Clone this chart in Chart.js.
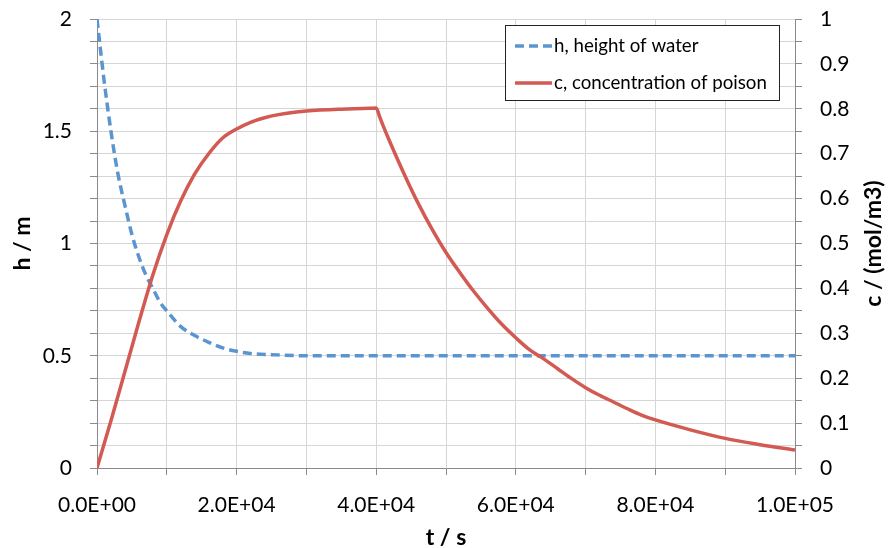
<!DOCTYPE html>
<html>
<head>
<meta charset="utf-8">
<script src="https://cdn.jsdelivr.net/npm/chart.js@4.4.0/dist/chart.umd.min.js"></script>
<style>
	body { margin: 0; background: #fff; }
	#wrap { width: 888px; height: 548px; position: relative; }
</style>
</head>
<body>
<div id="wrap"><canvas id="tank_chart"></canvas></div>
<script>
// h, height of water (m)
const hTimes = [0, 1000, 2000, 3000, 4000, 5000, 6000, 7000, 8000, 9000, 10000, 12000, 14000, 16000, 18000, 20000, 22000, 25000, 30000, 40000, 50000, 60000, 70000, 80000, 90000, 100000];
const hValues = [2.00, 1.73, 1.50, 1.31, 1.17, 1.04, 0.94, 0.86, 0.80, 0.74, 0.70, 0.63, 0.59, 0.56, 0.535, 0.52, 0.51, 0.505, 0.50, 0.50, 0.50, 0.50, 0.50, 0.50, 0.50, 0.50];

// c, concentration of poison (mol/m3)
const cTimes = [0, 2000, 4000, 6000, 8000, 10000, 12000, 14000, 16000, 18000, 20000, 22000, 24000, 26000, 28000, 30000, 35000, 39000, 40000, 40500, 41000, 42000, 44000, 46000, 48000, 50000, 52000, 54000, 56000, 58000, 60000, 62000, 64000, 66000, 68000, 70000, 72000, 74000, 76000, 78000, 80000, 85000, 90000, 95000, 100000];
const cValues = [0, 0.105, 0.215, 0.325, 0.43, 0.52, 0.595, 0.655, 0.70, 0.735, 0.755, 0.77, 0.78, 0.787, 0.792, 0.795, 0.799, 0.801, 0.802, 0.782, 0.762, 0.725, 0.655, 0.59, 0.532, 0.48, 0.435, 0.393, 0.355, 0.32, 0.29, 0.263, 0.243, 0.221, 0.199, 0.179, 0.162, 0.147, 0.132, 0.118, 0.107, 0.085, 0.066, 0.052, 0.040];

const seriesLabels = ['h, height of water', 'c, concentration of poison'];
const axisTitles = { x: 't / s', y: 'h / m', y1: 'c / (mol/m3)' };

const blue = '#5b95d0';
const red = '#d25a52';
const gridColor = '#d6d6d6';
const axisColor = '#8a8a8a';
const fontName = 'Lato, "Open Sans", sans-serif';

window.tank_chart = () => {
	let chartId = "tank_chart";
	const canvas = document.getElementById(chartId);
	if (canvas == null) return;

	const toPoints = (xs, ys) => xs.map((x, i) => ({ x: x, y: ys[i] }));

	const fmtExp = (v) => {
		let s = Number(v).toExponential(1).toUpperCase(); // e.g. 2.0E+4
		let m = s.match(/^(.*)E([+-])(\d+)$/);
		return m[1] + 'E' + m[2] + m[3].padStart(2, '0');
	};

	// fixed box sizes so the plot area lands where it does in the original
	const fixBox = (w, h) => (s) => {
		if (w != null) s.width = w;
		if (h != null) s.height = h;
		s.paddingTop = 0;
		s.paddingBottom = 0;
		s.paddingLeft = 0;
		s.paddingRight = 0;
	};

	// titles + legend drawn by hand (right title reads bottom-to-top, legend sits inside the plot)
	const overlay = {
		id: 'overlay',
		afterDraw(chart) {
			const ctx = chart.ctx;
			const area = chart.chartArea;
			ctx.save();
			ctx.fillStyle = '#000';
			ctx.font = 'bold 23px ' + fontName;
			ctx.textAlign = 'center';
			ctx.textBaseline = 'middle';
			ctx.fillText(axisTitles.x, (area.left + area.right) / 2, 538);
			let midY = (area.top + area.bottom) / 2;
			[[23, axisTitles.y], [874, axisTitles.y1]].forEach(([x, txt]) => {
				ctx.save();
				ctx.translate(x, midY);
				ctx.rotate(-Math.PI / 2);
				ctx.fillText(txt, 0, 0);
				ctx.restore();
			});

			// legend box
			ctx.fillStyle = '#fff';
			ctx.fillRect(505, 25, 274, 75);
			ctx.strokeStyle = '#222';
			ctx.lineWidth = 1;
			ctx.strokeRect(505.5, 25.5, 274, 75);
			const rows = [46, 83];
			chart.data.datasets.forEach((ds, i) => {
				ctx.beginPath();
				ctx.strokeStyle = ds.borderColor;
				ctx.lineWidth = ds.borderWidth;
				ctx.setLineDash(ds.borderDash || []);
				ctx.moveTo(515, rows[i]);
				ctx.lineTo(552, rows[i]);
				ctx.stroke();
				ctx.setLineDash([]);
				ctx.fillStyle = '#000';
				ctx.font = '18.7px ' + fontName;
				ctx.textAlign = 'left';
				ctx.fillText(ds.label, 554, rows[i]);
			});
			ctx.restore();
		}
	};

	const data = {
		datasets: [{
			label: seriesLabels[0],
			data: toPoints(hTimes, hValues),
			yAxisID: 'y',
			borderColor: blue,
			borderWidth: 3.5,
			borderDash: [9, 5],
			pointRadius: 0,
			cubicInterpolationMode: 'monotone',
			order: 1
		}, {
			label: seriesLabels[1],
			data: toPoints(cTimes, cValues),
			yAxisID: 'y1',
			borderColor: red,
			borderWidth: 3.5,
			pointRadius: 0,
			cubicInterpolationMode: 'monotone',
			order: 0
		}]
	};

	const tickFont = { family: fontName, size: 21 };

	const config = {
		type: 'line',
		data: data,
		options: {
			responsive: true,
			maintainAspectRatio: false,
			animation: false,
			layout: { padding: { top: 19, left: 0, right: 0, bottom: 0 } },
			scales: {
				x: {
					type: 'linear',
					min: 0,
					max: 100000,
					afterFit: fixBox(null, 80),
					ticks: {
						stepSize: 10000,
						autoSkip: false,
						maxRotation: 0,
						padding: 18,
						color: '#000',
						font: tickFont,
						callback: (v) => (Math.round(v / 10000) % 2 === 0 ? fmtExp(v) : '')
					},
					grid: { color: gridColor, tickColor: axisColor, tickLength: 7 },
					border: { color: axisColor }
				},
				y: {
					position: 'left',
					min: 0,
					max: 2,
					afterFit: fixBox(97, null),
					ticks: {
						stepSize: 0.1,
						autoSkip: false,
						padding: 18,
						color: '#000',
						font: tickFont,
						callback: (v) => {
							let r = Math.round(v * 10);
							return r % 5 === 0 ? String(r / 10) : '';
						}
					},
					grid: { color: gridColor, tickColor: axisColor, tickLength: 7 },
					border: { color: axisColor }
				},
				y1: {
					position: 'right',
					min: 0,
					max: 1,
					afterFit: fixBox(93, null),
					ticks: {
						stepSize: 0.05,
						autoSkip: false,
						padding: 18,
						color: '#000',
						font: tickFont,
						callback: (v) => {
							let r = Math.round(v * 20);
							return r % 2 === 0 ? String(r / 20) : '';
						}
					},
					grid: { drawOnChartArea: false, tickColor: axisColor, tickLength: 7 },
					border: { color: axisColor }
				}
			},
			plugins: {
				legend: { display: false },
				tooltip: { enabled: false }
			}
		},
		plugins: [overlay]
	};

	const ctx = canvas.getContext('2d');
	new Chart(ctx, config);
}

window.tank_chart();
</script>
</body>
</html>
